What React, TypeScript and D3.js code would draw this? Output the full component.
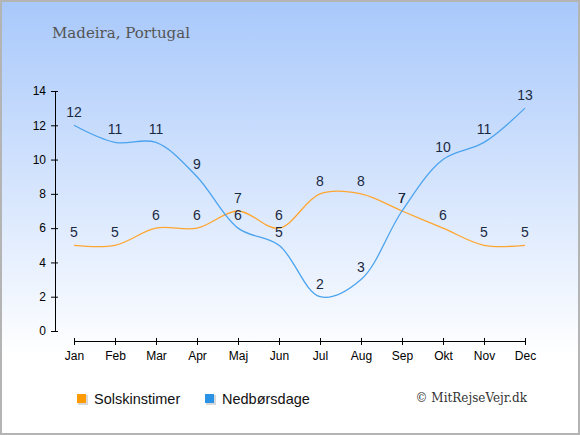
import { useEffect, useRef } from 'react';
import * as d3 from 'd3';

const months = ['Jan', 'Feb', 'Mar', 'Apr', 'Maj', 'Jun', 'Jul', 'Aug', 'Sep', 'Okt', 'Nov', 'Dec'];
const sunHours = [5, 5, 6, 6, 7, 6, 8, 8, 7, 6, 5, 5];
const rainDays = [12, 11, 11, 9, 6, 5, 2, 3, 7, 10, 11, 13];
const yTicks = [0, 2, 4, 6, 8, 10, 12, 14];

const width = 580;
const height = 435;

export default function App() {
  const svgRef = useRef<SVGSVGElement>(null);

  useEffect(() => {
    if (!svgRef.current) return;
    const svg = d3.select(svgRef.current);
    svg.selectAll('*').remove();

    // background gradient
    const grad = svg
      .append('defs')
      .append('linearGradient')
      .attr('id', 'bg')
      .attr('x1', 0).attr('y1', 0)
      .attr('x2', 0).attr('y2', 1);
    grad.append('stop').attr('offset', '0%').attr('stop-color', '#a8c8fb');
    grad.append('stop').attr('offset', '82%').attr('stop-color', '#ffffff');
    grad.append('stop').attr('offset', '100%').attr('stop-color', '#ffffff');

    svg.append('rect')
      .attr('x', 0).attr('y', 0)
      .attr('width', width).attr('height', height)
      .attr('fill', 'url(#bg)');

    svg.append('rect')
      .attr('x', 1).attr('y', 1)
      .attr('width', width - 2).attr('height', height - 2)
      .attr('fill', 'none')
      .attr('stroke', '#b4b4b4')
      .attr('stroke-width', 2);

    // title
    svg.append('text')
      .attr('x', 52).attr('y', 38)
      .attr('fill', '#555')
      .style('font-family', 'DejaVu Serif, Georgia, serif')
      .style('font-size', '15px')
      .text('Madeira, Portugal');

    const x = d3.scalePoint<string>().domain(months).range([74, 525]);
    const y = d3.scaleLinear().domain([0, 14]).range([331, 91]);

    const font = 'Liberation Sans, Arial, sans-serif';

    // y axis
    const yAxis = svg.append('g')
      .attr('transform', 'translate(55,0)')
      .call(d3.axisLeft(y).tickValues(yTicks).tickSize(0).tickPadding(9).tickFormat(d3.format('d')));
    yAxis.select('.domain').attr('stroke', '#000');
    yAxis.selectAll('.tick line').remove();
    yAxis.selectAll('.tick')
      .append('line')
      .attr('x1', -4).attr('x2', 3)
      .attr('stroke', '#000');
    yAxis.selectAll('text')
      .attr('fill', '#000')
      .style('font-family', font)
      .style('font-size', '12px');

    // x axis
    const xAxis = svg.append('g')
      .attr('transform', 'translate(0,341)')
      .call(d3.axisBottom(x).tickSize(0).tickPadding(10));
    xAxis.select('.domain').attr('stroke', '#000');
    xAxis.selectAll('.tick line').remove();
    xAxis.selectAll('.tick')
      .append('line')
      .attr('y1', -3).attr('y2', 4)
      .attr('stroke', '#000');
    xAxis.selectAll('text')
      .attr('fill', '#000')
      .style('font-family', font)
      .style('font-size', '12px');

    const line = d3.line<number>()
      .x((_, i) => x(months[i]) as number)
      .y(d => y(d))
      .curve(d3.curveCatmullRom.alpha(0.5));

    const series = [
      { values: sunHours, color: '#ffa630' },
      { values: rainDays, color: '#4ba3ee' },
    ];

    series.forEach(s => {
      svg.append('path')
        .datum(s.values)
        .attr('d', line)
        .attr('fill', 'none')
        .attr('stroke', s.color)
        .attr('stroke-width', 1.3);
    });

    series.forEach(s => {
      svg.append('g')
        .selectAll('text')
        .data(s.values)
        .enter()
        .append('text')
        .attr('x', (_, i) => x(months[i]) as number)
        .attr('y', d => y(d) - 8)
        .attr('text-anchor', 'middle')
        .attr('fill', '#1a2942')
        .style('font-family', font)
        .style('font-size', '14px')
        .text(d => d);
    });

    // legend
    const legend = [
      { label: 'Solskinstimer', color: '#ff9a00', x: 77 },
      { label: 'Nedbørsdage', color: '#2b93e6', x: 205 },
    ];
    legend.forEach(l => {
      svg.append('rect')
        .attr('x', l.x + 1).attr('y', 395)
        .attr('width', 10).attr('height', 10)
        .attr('fill', '#d8d8d8');
      svg.append('rect')
        .attr('x', l.x).attr('y', 394)
        .attr('width', 9).attr('height', 9)
        .attr('fill', l.color);
      svg.append('text')
        .attr('x', l.x + 17).attr('y', 404)
        .attr('fill', '#111')
        .style('font-family', font)
        .style('font-size', '14.5px')
        .text(l.label);
    });

    svg.append('text')
      .attr('x', 527).attr('y', 402)
      .attr('text-anchor', 'end')
      .attr('fill', '#333')
      .style('font-family', 'DejaVu Serif, Georgia, serif')
      .style('font-size', '12px')
      .text('© MitRejseVejr.dk');
  }, []);

  return (
    <svg
      ref={svgRef}
      width={width}
      height={height}
      style={{ position: 'absolute', left: 0, top: 0 }}
    />
  );
}
